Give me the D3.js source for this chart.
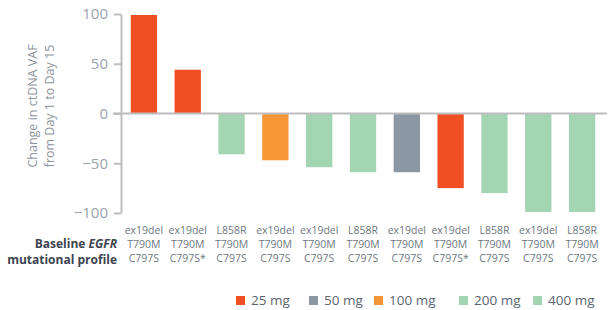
<!DOCTYPE html>
<html>
<head>
<meta charset="utf-8">
<script src="https://cdn.jsdelivr.net/npm/d3@7"></script>
<style>
  body { margin: 0; background: #fff; }
  text { font-family: "Open Sans", "Lato", sans-serif; }
</style>
</head>
<body>
<svg width="613" height="310"></svg>
<script>
// data
const mutations = [
  ['ex19del', 'T790M', 'C797S'],
  ['ex19del', 'T790M', 'C797S*'],
  ['L858R', 'T790M', 'C797S'],
  ['ex19del', 'T790M', 'C797S'],
  ['ex19del', 'T790M', 'C797S'],
  ['L858R', 'T790M', 'C797S'],
  ['ex19del', 'T790M', 'C797S'],
  ['ex19del', 'T790M', 'C797S*'],
  ['L858R', 'T790M', 'C797S'],
  ['ex19del', 'T790M', 'C797S'],
  ['L858R', 'T790M', 'C797S']
];
const vafChange = [99, 44, -41, -47, -54, -59, -59, -75, -80, -99, -99];
const doses = ['25 mg', '25 mg', '200 mg', '100 mg', '400 mg', '200 mg', '50 mg', '25 mg', '400 mg', '200 mg', '400 mg'];
const doseLevels = ['25 mg', '50 mg', '100 mg', '200 mg', '400 mg'];
const doseColors = ['#f04f23', '#8b97a3', '#f79637', '#a3d5b2', '#a3d5b2'];
const yTicks = [100, 50, 0, -50, -100];

const svg = d3.select('svg');

const x = d3.scaleBand()
  .domain(d3.range(vafChange.length))
  .range([122, 604])
  .paddingInner(0.4)
  .paddingOuter(0.2);

const y = d3.scaleLinear().domain([-100, 100]).range([213, 14]);

const color = d3.scaleOrdinal().domain(doseLevels).range(doseColors);

// y axis
const yAxis = svg.append('g')
  .attr('transform', 'translate(121,0)')
  .call(d3.axisLeft(y).tickValues(yTicks).tickSize(7).tickPadding(6).tickSizeOuter(0));
yAxis.select('.domain').attr('stroke', '#bdbdbd').attr('stroke-width', 2);
yAxis.selectAll('.tick line').attr('stroke', '#bdbdbd').attr('stroke-width', 2);
yAxis.selectAll('.tick text')
  .attr('fill', '#9aa3ae')
  .style('font-size', '15px');

// y title
const title = svg.append('text')
  .attr('transform', 'translate(43,106) rotate(-90)')
  .attr('text-anchor', 'middle')
  .attr('fill', '#8c949d')
  .style('font-size', '12.5px');
title.append('tspan').attr('x', 0).attr('dy', '-0.45em').text('Change in ctDNA VAF');
title.append('tspan').attr('x', 0).attr('dy', '1.35em').text('from Day 1 to Day 15');

// bars
svg.append('g').selectAll('rect')
  .data(vafChange)
  .join('rect')
  .attr('x', (d, i) => x(i))
  .attr('width', x.bandwidth())
  .attr('y', d => y(Math.max(0, d)))
  .attr('height', d => Math.abs(y(d) - y(0)))
  .attr('fill', (d, i) => color(doses[i]));

// zero line
svg.append('line')
  .attr('x1', 113).attr('x2', 607)
  .attr('y1', y(0)).attr('y2', y(0))
  .attr('stroke', '#bdbdbd')
  .attr('stroke-width', 2);

// category labels
const cat = svg.append('g').selectAll('text')
  .data(mutations)
  .join('text')
  .attr('x', (d, i) => x(i) + x.bandwidth() / 2)
  .attr('y', 234)
  .attr('text-anchor', 'middle')
  .attr('fill', '#6e7781')
  .style('font-size', '10.5px');
cat.selectAll('tspan')
  .data(d => d)
  .join('tspan')
  .attr('x', function () { return this.parentNode.getAttribute('x'); })
  .attr('dy', (d, i) => i === 0 ? 0 : 14)
  .text(d => d);

// row label, one text per line
svg.append('text')
  .attr('x', 117)
  .attr('y', 247.5)
  .attr('text-anchor', 'end')
  .attr('fill', '#3c4550')
  .style('font-size', '12px')
  .style('font-weight', 'bold')
  .call(t => {
    t.append('tspan').text('Baseline ');
    t.append('tspan').style('font-style', 'italic').text('EGFR');
  });
svg.append('text')
  .attr('x', 117)
  .attr('y', 263.5)
  .attr('text-anchor', 'end')
  .attr('fill', '#3c4550')
  .style('font-size', '12px')
  .style('font-weight', 'bold')
  .text('mutational profile');

// legend
const legendX = [236, 309, 374, 459, 533];
const legend = svg.append('g').selectAll('g')
  .data(doseLevels)
  .join('g')
  .attr('transform', (d, i) => `translate(${legendX[i]},296)`);
legend.append('rect')
  .attr('width', 9).attr('height', 9)
  .attr('fill', d => color(d));
legend.append('text')
  .attr('x', 15).attr('y', 9)
  .attr('fill', '#5b6570')
  .style('font-size', '13.5px')
  .text(d => d);
</script>
</body>
</html>
